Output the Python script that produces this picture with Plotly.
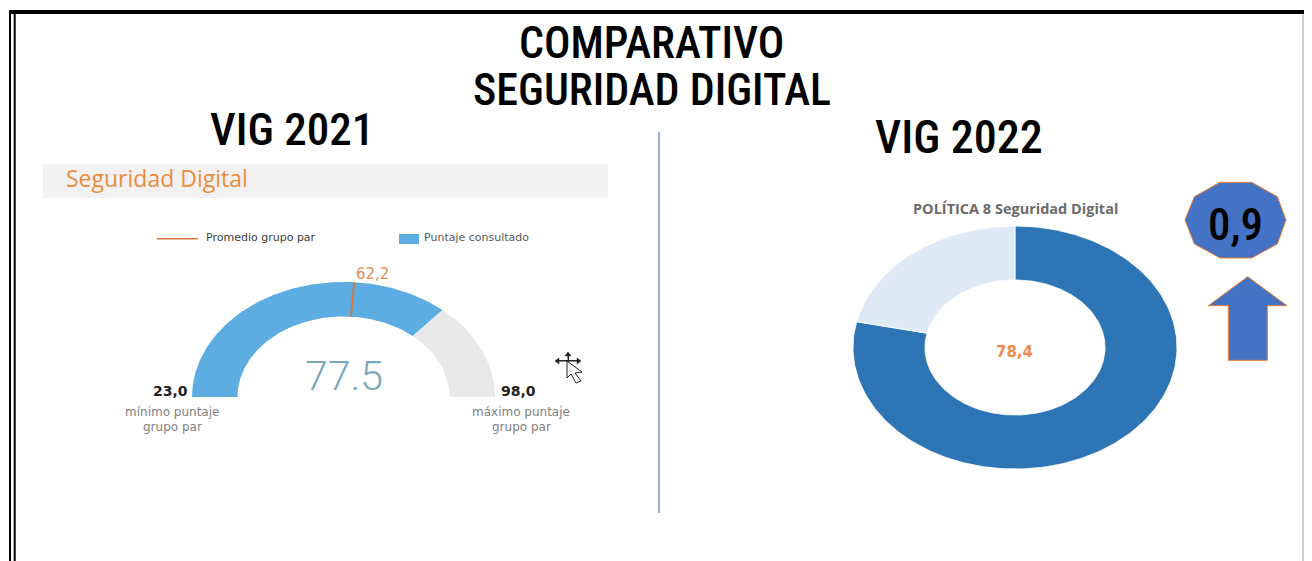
import math
import plotly.graph_objects as go

# The page body adds an 8 px margin, so the figure is drawn 8 px smaller and coordinates are shifted
OFF = 8
W, H = 1312, 561
FW, FH = W - OFF, H - OFF

# Data
gauge_min = 23.0
gauge_max = 98.0
gauge_value = 77.5
gauge_average = 62.2
donut_value = 78.4
donut_total = 100.0
change_value = "0,9"
main_title = ["COMPARATIVO", "SEGURIDAD DIGITAL"]
panel_titles = ["VIG 2021", "VIG 2022"]
legend_labels = ["Promedio grupo par", "Puntaje consultado"]

# Style
BLUE_G, GRAY_G = "#5DADE2", "#E9E9E9"
BLUE_D, LIGHT_D = "#2E75B6", "#DEEAF6"
ORANGE = "#ED7D31"
SHAPE_BLUE = "#4472C4"
TITLE = "Roboto Condensed, Roboto, sans-serif"


def px(x):
    return (x - OFF) / FW


def py(y):
    return 1 - (y - OFF) / FH


def ring(a0, a1, inner, n=120):
    ang = [a0 + (a1 - a0) * i / n for i in range(n + 1)]
    xs = [math.cos(a) for a in ang] + [inner * math.cos(a) for a in reversed(ang)]
    ys = [math.sin(a) for a in ang] + [inner * math.sin(a) for a in reversed(ang)]
    return xs + xs[:1], ys + ys[:1]


def gauge_angle(v):
    return math.pi * (1 - (v - gauge_min) / (gauge_max - gauge_min))


def donut_angle(v):
    return math.pi / 2 - 2 * math.pi * v / donut_total


fig = go.Figure()

G_IN = 0.70
for a, b, col, name in [
    (gauge_min, gauge_value, BLUE_G, legend_labels[1]),
    (gauge_value, gauge_max, GRAY_G, "Resto"),
]:
    xs, ys = ring(gauge_angle(a), gauge_angle(b), G_IN)
    fig.add_trace(go.Scatter(x=xs, y=ys, mode="lines", fill="toself", fillcolor=col,
                             line=dict(width=0, color=col), name=name, showlegend=False,
                             xaxis="x", yaxis="y", hoverinfo="name"))
t = gauge_angle(gauge_average)
fig.add_trace(go.Scatter(x=[G_IN * math.cos(t), math.cos(t)], y=[G_IN * math.sin(t), math.sin(t)],
                         mode="lines", line=dict(color="#D9773A", width=1.8),
                         name=legend_labels[0], showlegend=False, xaxis="x", yaxis="y"))

D_IN = 0.556
for a, b, col, name in [
    (0, donut_value, BLUE_D, "Puntaje"),
    (donut_value, donut_total, LIGHT_D, "Resto"),
]:
    xs, ys = ring(donut_angle(a), donut_angle(b), D_IN, n=240)
    fig.add_trace(go.Scatter(x=xs, y=ys, mode="lines", fill="toself", fillcolor=col,
                             line=dict(width=0.8, color="#FFFFFF"), name=name, showlegend=False,
                             xaxis="x2", yaxis="y2", hoverinfo="name"))


def ax(range_, pixel_a, pixel_b, to_paper, anchor):
    d = sorted([to_paper(pixel_a), to_paper(pixel_b)])
    return dict(range=range_, domain=d, visible=False, fixedrange=True, anchor=anchor)


fig.update_layout(
    width=FW, height=FH, autosize=False,
    margin=dict(l=0, r=0, t=0, b=0),
    paper_bgcolor="#FFFFFF", plot_bgcolor="rgba(0,0,0,0)",
    showlegend=False,
    xaxis=ax([-1, 1], 192, 495, px, "y"),
    yaxis=ax([0, 1], 397, 282, py, "x"),
    xaxis2=ax([-1, 1], 853, 1177, px, "y2"),
    yaxis2=ax([-1, 1], 469, 226, py, "x2"),
)


def rect(x0, y0, x1, y1, fill):
    fig.add_shape(type="rect", xref="paper", yref="paper", x0=px(x0), x1=px(x1), y0=py(y0), y1=py(y1),
                  fillcolor=fill, line=dict(width=0), layer="below")


def poly(points, fill, line=None, width=1):
    d = "M" + " L".join(f"{px(x):.5f},{py(y):.5f}" for x, y in points) + " Z"
    fig.add_shape(type="path", xref="paper", yref="paper", path=d, fillcolor=fill,
                  line=dict(color=line or fill, width=width), layer="above")


def text(x, y, s, size, color, family, anchor="center", weight=400):
    fig.add_annotation(xref="paper", yref="paper", x=px(x), y=py(y), text=s,
                       showarrow=False, xanchor=anchor, yanchor="middle",
                       font=dict(size=size, color=color, family=family, weight=weight))


# Frame
rect(9, 10, 1312, 14, "#000000")
rect(9, 10, 11, 561, "#000000")
rect(13.7, 10, 15.7, 561, "#000000")
rect(1302, 14, 1307, 561, "#D0D0D0")
rect(1307, 10, 1309, 561, "#000000")
rect(1310, 10, 1312, 561, "#000000")

# Header band and divider
rect(43, 164, 608, 198, "#F2F2F2")
fig.add_shape(type="line", xref="paper", yref="paper", x0=px(659), x1=px(659), y0=py(132), y1=py(513),
              line=dict(color="#5B84D6", width=1.3))

# Titles
text(651.5, 43, main_title[0], 44, "#000000", TITLE, weight=500)
text(651.5, 90, main_title[1], 44, "#000000", TITLE, weight=500)
text(292, 129, panel_titles[0], 45, "#000000", TITLE, weight=500)
text(958.5, 137, panel_titles[1], 46, "#000000", TITLE, weight=500)

# Gauge texts
text(64, 178, "Seguridad Digital", 23, "#ED8B3F", "Open Sans", anchor="left")
rect(157, 238, 198, 239.5, "#D9773A")
text(204, 238, legend_labels[0], 11, "#404040", "DejaVu Sans", anchor="left")
rect(399, 234, 419, 244, BLUE_G)
text(422, 238, legend_labels[1], 11, "#595959", "DejaVu Sans", anchor="left")
text(372, 274, f"{gauge_average:.1f}".replace(".", ","), 15, "#E08A50", "DejaVu Sans")
text(344, 376, f"{gauge_value:.1f}", 41, "#7AA9BC", "Roboto", weight=300)
text(170, 391, f"{gauge_min:.1f}".replace(".", ","), 14, "#222222", "DejaVu Sans", weight=700)
text(518, 391, f"{gauge_max:.1f}".replace(".", ","), 14, "#222222", "DejaVu Sans", weight=700)
text(172, 412, "mínimo puntaje", 12, "#808080", "DejaVu Sans")
text(172, 427, "grupo par", 12, "#808080", "DejaVu Sans")
text(521, 412, "máximo puntaje", 12, "#808080", "DejaVu Sans")
text(521, 427, "grupo par", 12, "#808080", "DejaVu Sans")

# Donut texts
text(1015, 208, "POLÍTICA 8 Seguridad Digital", 14.5, "#6B6B6B", "Open Sans", weight=700)
text(1014, 352, f"{donut_value:.1f}".replace(".", ","), 15, "#F08A4B", "DejaVu Sans", weight=700)

# Badge and arrow
badge = [(180, 37), (275, 37), (352, 80), (378, 150), (352, 222), (275, 264), (180, 264), (103, 222), (75, 150), (103, 80)]
poly([(1160 + a / 3, 170 + b / 3) for a, b in badge], SHAPE_BLUE, ORANGE, 1)
arrow = [(263, 320), (381, 407), (322, 407), (322, 571), (205, 571), (205, 407), (145, 407)]
poly([(1160 + a / 3, 170 + b / 3) for a, b in arrow], SHAPE_BLUE, ORANGE, 1)
text(1235, 224, change_value, 45, "#000000", TITLE, weight=500)

# Mouse cursor seen in the screenshot
rect(558, 360, 578, 361.5, "#222222")
rect(567.5, 354, 569, 368, "#222222")
poly([(555, 361), (559, 358), (559, 364)], "#222222", width=0.5)
poly([(581, 361), (577, 358), (577, 364)], "#222222", width=0.5)
poly([(568, 352), (565, 356), (571, 356)], "#222222", width=0.5)
poly([(567, 361), (582, 372), (575, 373), (581, 381), (576, 383), (571, 374), (567, 378)], "#FFFFFF", "#222222", 1)

fig.write_html("out.html", config=dict(displayModeBar=False))
